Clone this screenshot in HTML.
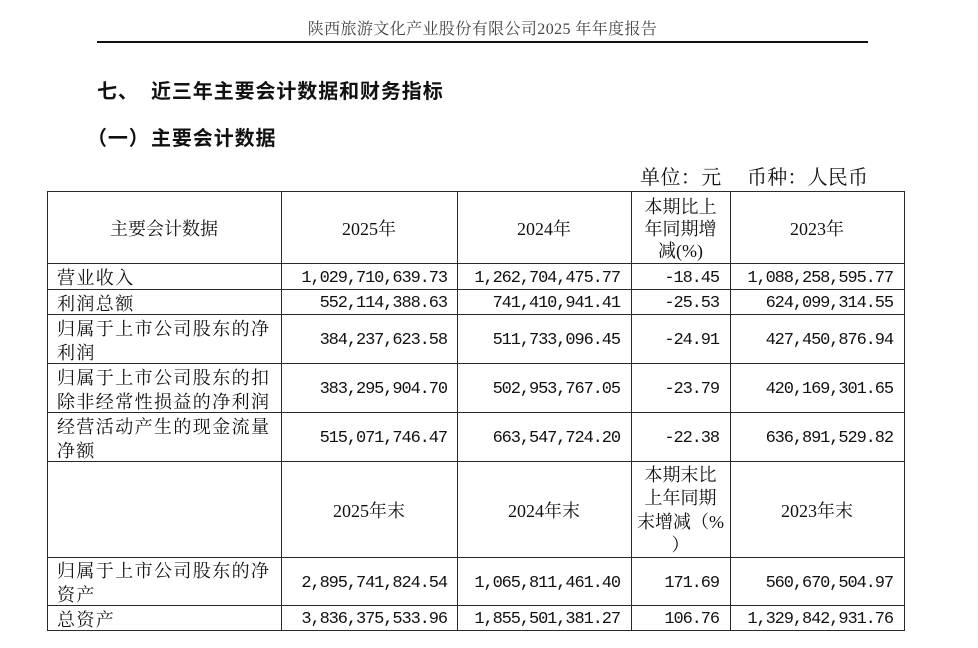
<!DOCTYPE html>
<html><head><meta charset="utf-8">
<style>
html,body{margin:0;padding:0;background:#fff;}
body{width:978px;height:648px;position:relative;overflow:hidden;font-family:"Liberation Serif","Noto Serif CJK SC",serif;color:#111;}
.a{position:absolute;white-space:nowrap;}
.hl{position:absolute;background:#2a2a2a;height:1px;left:47px;width:858px;}
.vl{position:absolute;background:#2a2a2a;width:1px;top:191px;height:440px;}
.c{position:absolute;display:flex;align-items:center;box-sizing:border-box;white-space:nowrap;padding-top:4px;}
.l{justify-content:flex-start;padding-left:10px;font-size:18px;letter-spacing:1.4px;line-height:24px;}
.n{justify-content:flex-end;padding-right:11px;font-family:"Liberation Mono",monospace;font-size:17px;letter-spacing:-1.1px;}
.h{justify-content:center;text-align:center;font-size:18px;line-height:22px;padding-top:3px;}
.t{font-family:"Liberation Sans","Noto Sans CJK SC",sans-serif;font-weight:700;font-size:20px;line-height:20px;letter-spacing:0.9px;color:#111;}
</style></head><body>

<!-- page header -->
<div class="a" style="left:97px;width:771px;top:20px;text-align:center;font-size:16px;line-height:20px;color:#444;letter-spacing:0.4px;">陕西旅游文化产业股份有限公司2025 年年度报告</div>
<div class="a" style="left:97px;top:41px;width:771px;height:2px;background:#111;"></div>

<!-- titles -->
<div class="a t" style="left:97px;top:82px;">七、</div>
<div class="a t" style="left:151px;top:82px;">近三年主要会计数据和财务指标</div>
<div class="a t" style="left:87px;top:129px;">（一）</div>
<div class="a t" style="left:151px;top:129px;">主要会计数据</div>

<div class="a" style="left:640px;top:167px;font-size:20px;line-height:22px;letter-spacing:0.4px;">单位：元</div>
<div class="a" style="left:747px;top:167px;font-size:20px;line-height:22px;letter-spacing:0.2px;">币种：人民币</div>

<!-- grid lines -->
<div class="hl" style="top:191px"></div>
<div class="hl" style="top:263px"></div>
<div class="hl" style="top:289px"></div>
<div class="hl" style="top:314px"></div>
<div class="hl" style="top:363px"></div>
<div class="hl" style="top:412px"></div>
<div class="hl" style="top:461px"></div>
<div class="hl" style="top:557px"></div>
<div class="hl" style="top:605px"></div>
<div class="hl" style="top:630px"></div>
<div class="vl" style="left:47px"></div>
<div class="vl" style="left:281px"></div>
<div class="vl" style="left:457px"></div>
<div class="vl" style="left:631px"></div>
<div class="vl" style="left:730px"></div>
<div class="vl" style="left:904px"></div>

<!-- header row 1 -->
<div class="c h" style="left:47px;top:191px;width:234px;height:72px;">主要会计数据</div>
<div class="c h" style="left:281px;top:191px;width:176px;height:72px;">2025年</div>
<div class="c h" style="left:457px;top:191px;width:174px;height:72px;">2024年</div>
<div class="c h" style="left:631px;top:191px;width:99px;height:72px;">本期比上<br>年同期增<br>减(%)</div>
<div class="c h" style="left:730px;top:191px;width:174px;height:72px;">2023年</div>

<!-- row 1 -->
<div class="c l" style="left:47px;top:263px;width:234px;height:26px;">营业收入</div>
<div class="c n" style="left:281px;top:263px;width:176px;height:26px;padding-right:10px;">1,029,710,639.73</div>
<div class="c n" style="left:457px;top:263px;width:174px;height:26px;">1,262,704,475.77</div>
<div class="c n" style="left:631px;top:263px;width:99px;height:26px;">-18.45</div>
<div class="c n" style="left:730px;top:263px;width:174px;height:26px;">1,088,258,595.77</div>

<!-- row 2 -->
<div class="c l" style="left:47px;top:289px;width:234px;height:25px;">利润总额</div>
<div class="c n" style="left:281px;top:289px;width:176px;height:25px;padding-right:10px;">552,114,388.63</div>
<div class="c n" style="left:457px;top:289px;width:174px;height:25px;">741,410,941.41</div>
<div class="c n" style="left:631px;top:289px;width:99px;height:25px;">-25.53</div>
<div class="c n" style="left:730px;top:289px;width:174px;height:25px;">624,099,314.55</div>

<!-- row 3 -->
<div class="c l" style="left:47px;top:314px;width:234px;height:49px;">归属于上市公司股东的净<br>利润</div>
<div class="c n" style="left:281px;top:314px;width:176px;height:49px;padding-right:10px;">384,237,623.58</div>
<div class="c n" style="left:457px;top:314px;width:174px;height:49px;">511,733,096.45</div>
<div class="c n" style="left:631px;top:314px;width:99px;height:49px;">-24.91</div>
<div class="c n" style="left:730px;top:314px;width:174px;height:49px;">427,450,876.94</div>

<!-- row 4 -->
<div class="c l" style="left:47px;top:363px;width:234px;height:49px;">归属于上市公司股东的扣<br>除非经常性损益的净利润</div>
<div class="c n" style="left:281px;top:363px;width:176px;height:49px;padding-right:10px;">383,295,904.70</div>
<div class="c n" style="left:457px;top:363px;width:174px;height:49px;">502,953,767.05</div>
<div class="c n" style="left:631px;top:363px;width:99px;height:49px;">-23.79</div>
<div class="c n" style="left:730px;top:363px;width:174px;height:49px;">420,169,301.65</div>

<!-- row 5 -->
<div class="c l" style="left:47px;top:412px;width:234px;height:49px;">经营活动产生的现金流量<br>净额</div>
<div class="c n" style="left:281px;top:412px;width:176px;height:49px;padding-right:10px;">515,071,746.47</div>
<div class="c n" style="left:457px;top:412px;width:174px;height:49px;">663,547,724.20</div>
<div class="c n" style="left:631px;top:412px;width:99px;height:49px;">-22.38</div>
<div class="c n" style="left:730px;top:412px;width:174px;height:49px;">636,891,529.82</div>

<!-- header row 2 -->
<div class="c h" style="left:281px;top:461px;width:176px;height:96px;">2025年末</div>
<div class="c h" style="left:457px;top:461px;width:174px;height:96px;">2024年末</div>
<div class="c h" style="left:631px;top:461px;width:99px;height:96px;line-height:23.5px;">本期末比<br>上年同期<br>末增减（%<br>）</div>
<div class="c h" style="left:730px;top:461px;width:174px;height:96px;">2023年末</div>

<!-- row 7 -->
<div class="c l" style="left:47px;top:557px;width:234px;height:48px;">归属于上市公司股东的净<br>资产</div>
<div class="c n" style="left:281px;top:557px;width:176px;height:48px;padding-right:10px;">2,895,741,824.54</div>
<div class="c n" style="left:457px;top:557px;width:174px;height:48px;">1,065,811,461.40</div>
<div class="c n" style="left:631px;top:557px;width:99px;height:48px;">171.69</div>
<div class="c n" style="left:730px;top:557px;width:174px;height:48px;">560,670,504.97</div>

<!-- row 8 -->
<div class="c l" style="left:47px;top:605px;width:234px;height:25px;">总资产</div>
<div class="c n" style="left:281px;top:605px;width:176px;height:25px;padding-right:10px;">3,836,375,533.96</div>
<div class="c n" style="left:457px;top:605px;width:174px;height:25px;">1,855,501,381.27</div>
<div class="c n" style="left:631px;top:605px;width:99px;height:25px;">106.76</div>
<div class="c n" style="left:730px;top:605px;width:174px;height:25px;">1,329,842,931.76</div>

</body></html>
